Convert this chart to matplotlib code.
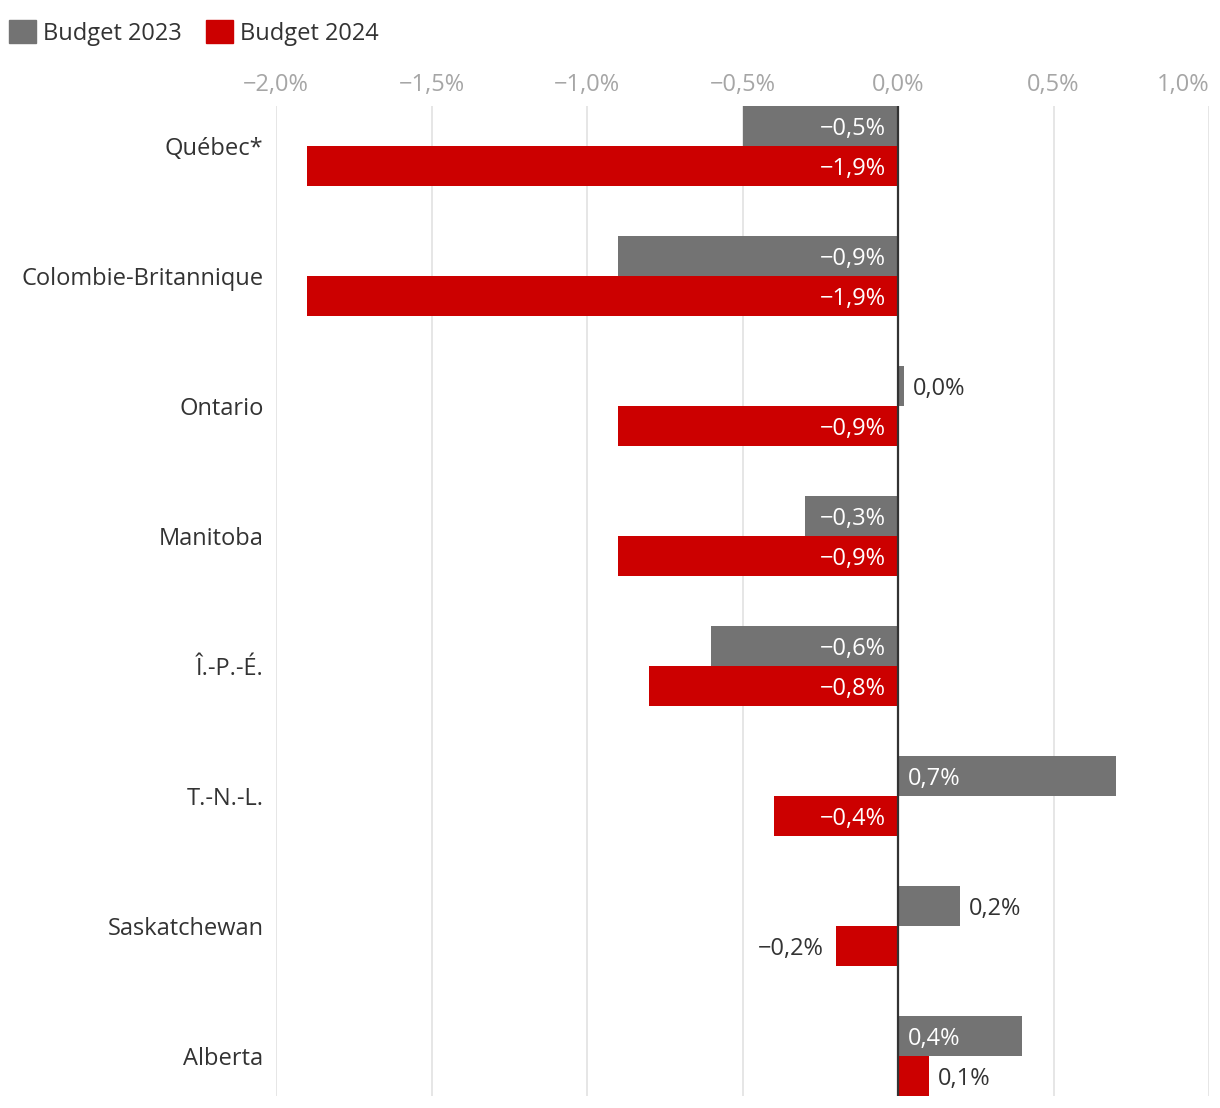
import numpy as np
import matplotlib
matplotlib.use("Agg")
import matplotlib.pyplot as plt
from matplotlib.patches import Patch
from matplotlib.ticker import FixedLocator, FuncFormatter

plt.rcParams['font.family'] = ['Open Sans', 'DejaVu Sans']

provinces = ["Québec*", "Colombie-Britannique", "Ontario", "Manitoba",
             "Î.-P.-É.", "T.-N.-L.", "Saskatchewan", "Alberta"]
budget_2023 = [-0.5, -0.9, 0.02, -0.3, -0.6, 0.7, 0.2, 0.4]
labels_2023 = ["−0,5%", "−0,9%", "0,0%", "−0,3%", "−0,6%", "0,7%", "0,2%", "0,4%"]
budget_2024 = [-1.9, -1.9, -0.9, -0.9, -0.8, -0.4, -0.2, 0.1]
labels_2024 = ["−1,9%", "−1,9%", "−0,9%", "−0,9%", "−0,8%", "−0,4%", "−0,2%", "0,1%"]
xticks = [-2.0, -1.5, -1.0, -0.5, 0.0, 0.5, 1.0]

GREY = "#737373"
RED = "#cc0000"
DARK = "#333333"
FS = 17

fig = plt.figure(figsize=(12.2, 11.08), dpi=100)
W, H = 1220, 1108
ax = fig.add_axes([276 / W, 1 - 1096 / H, (1209 - 276) / W, (1096 - 106) / H])

h = 40 / 130
y = np.arange(len(provinces))
y23 = y - h / 2
y24 = y + h / 2

ax.barh(y23, budget_2023, height=h, color=GREY, zorder=2)
ax.barh(y24, budget_2024, height=h, color=RED, zorder=2)


def put_labels(ys, vals, labs):
    for yy, v, lab in zip(ys, vals, labs):
        inside = abs(v) >= 0.3
        if inside and v < 0:
            xy, dx, ha, col = (0, yy), -9, "right", "white"
        elif inside:
            xy, dx, ha, col = (0, yy), 7, "left", "white"
        elif v < 0:
            xy, dx, ha, col = (v, yy), -9, "right", DARK
        else:
            xy, dx, ha, col = (v, yy), 6.5, "left", DARK
        ax.annotate(lab, xy, xytext=(dx, -2.5), textcoords="offset points",
                    ha=ha, va="center", color=col, fontsize=FS, zorder=4)


put_labels(y23, budget_2023, labels_2023)
put_labels(y24, budget_2024, labels_2024)

ax.axvline(0, color=DARK, lw=1.6, zorder=3)

ax.set_xlim(-2.0, 1.0)
ax.set_ylim(len(provinces) - 1 + h, -h)
ax.xaxis.set_major_locator(FixedLocator(xticks))
ax.xaxis.set_major_formatter(FuncFormatter(
    lambda v, p: f"{v:.1f}%".replace(".", ",").replace("-", "−")))
ax.xaxis.tick_top()
ax.tick_params(axis="x", length=0, pad=6.5, labelsize=FS, labelcolor="#a6a6a6")
ax.get_xticklabels()[-1].set_ha("right")
ax.grid(axis="x", color="#e2e2e2", lw=1.2, zorder=0)
ax.set_yticks(y)
ax.set_yticklabels(provinces)
ax.tick_params(axis="y", length=0, pad=9, labelsize=FS, labelcolor=DARK)
for s in ax.spines.values():
    s.set_visible(False)

handles = [Patch(color=GREY, label="Budget 2023"), Patch(color=RED, label="Budget 2024")]
fig.legend(handles=handles, loc="upper left", bbox_to_anchor=(-0.006, 0.997), ncol=2,
           frameon=False, fontsize=FS, handlelength=1.15, handleheight=1.15,
           handletextpad=0.3, columnspacing=1.0, borderaxespad=0.3, labelcolor=DARK)

fig.savefig("out.png", dpi=100)
